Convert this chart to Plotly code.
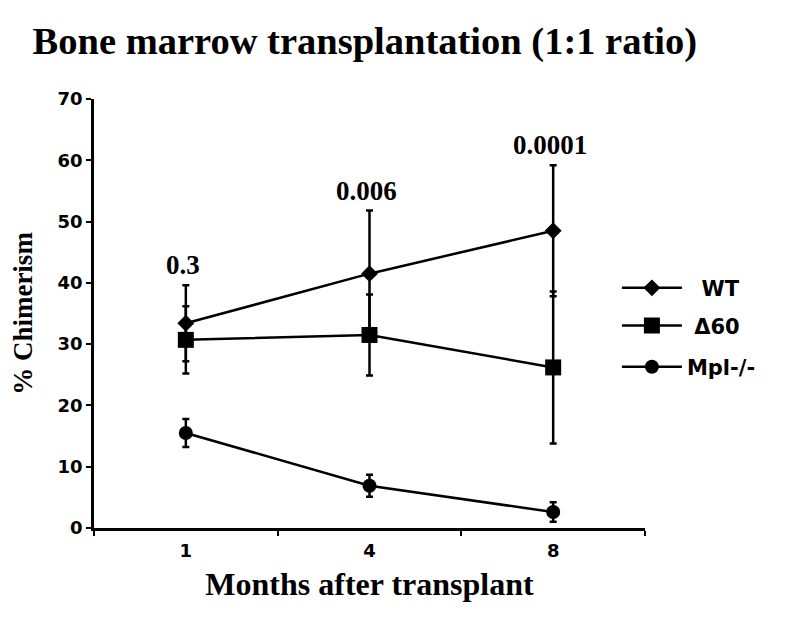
import plotly.graph_objects as go

months = ["1", "4", "8"]
wt_mean = [33.4, 41.5, 48.5]
wt_err = [6.2, 10.3, 10.7]
d60_mean = [30.7, 31.5, 26.2]
d60_err = [5.5, 6.6, 12.4]
mpl_mean = [15.5, 6.9, 2.6]
mpl_err = [2.3, 1.8, 1.6]
p_values = ["0.3", "0.006", "0.0001"]

series_names = ["\u00a0\u00a0WT", "\u00a0Δ60", "Mpl-/-"]
symbols = ["diamond", "square", "circle"]
sizes = [13, 16, 14]

SERIF = "Liberation Serif"
SANS = "DejaVu Sans"

fig = go.Figure()
legend_ids = ["legend", "legend2", "legend3"]
for name, mean, err, sym, sz, lg in zip(series_names, [wt_mean, d60_mean, mpl_mean],
                                         [wt_err, d60_err, mpl_err], symbols, sizes, legend_ids):
    fig.add_trace(go.Scatter(
        x=months, y=mean, name=name, mode="lines+markers",
        line=dict(color="black", width=2.5),
        marker=dict(symbol=sym, size=sz, color="black"),
        error_y=dict(type="data", array=err, visible=True, color="black",
                     thickness=2.5, width=3.5),
        legend=lg, showlegend=True,
    ))

for i, (y, e, p) in enumerate(zip(wt_mean, wt_err, p_values)):
    fig.add_annotation(x=i, y=y + e, text=p, showarrow=False, yanchor="bottom",
                       yshift=3, xshift=-3,
                       font=dict(family=SERIF, size=27, color="black", weight="bold"))

leg_common = dict(font=dict(family=SANS, size=21, color="black", weight="bold"),
                  xanchor="left", yanchor="middle", bgcolor="rgba(0,0,0,0)",
                  itemwidth=60, x=0.949, visible=True)
fig.update_layout(
    showlegend=True,
    legend=dict(y=0.559, **leg_common),
    legend2=dict(y=0.471, **leg_common),
    legend3=dict(y=0.375, **leg_common),
)

fig.update_layout(
    width=800, height=617,
    margin=dict(l=86, r=163, t=91, b=97),
    plot_bgcolor="white", paper_bgcolor="white",
    title=dict(text="Bone marrow transplantation (1:1 ratio)", x=0.446, xanchor="center",
               y=0.948, yanchor="middle",
               font=dict(family=SERIF, size=38.5, color="black", weight="bold")),
    xaxis=dict(type="category", range=[-0.5, 2.5], showline=True, linecolor="black", linewidth=2.5,
               ticks="outside", tickson="boundaries", ticklen=5, tickwidth=2,
               tickcolor="black", showgrid=False, zeroline=False,
               ticklabelstandoff=5,
               tickfont=dict(family=SANS, size=18, color="black", weight="bold"),
               title=dict(text="Months after transplant", standoff=13,
                          font=dict(family=SERIF, size=32, color="black", weight="bold"))),
    yaxis=dict(range=[0, 70], tickvals=[0, 10, 20, 30, 40, 50, 60, 70],
               showline=True, linecolor="black", linewidth=2.5,
               ticks="outside", ticklen=5, tickwidth=2, tickcolor="black",
               showgrid=False, zeroline=False,
               tickfont=dict(family=SANS, size=18, color="black", weight="bold"),
               title=dict(text="% Chimerism", standoff=18,
                          font=dict(family=SERIF, size=27, color="black", weight="bold"))),
)

fig.write_html("out.html")
